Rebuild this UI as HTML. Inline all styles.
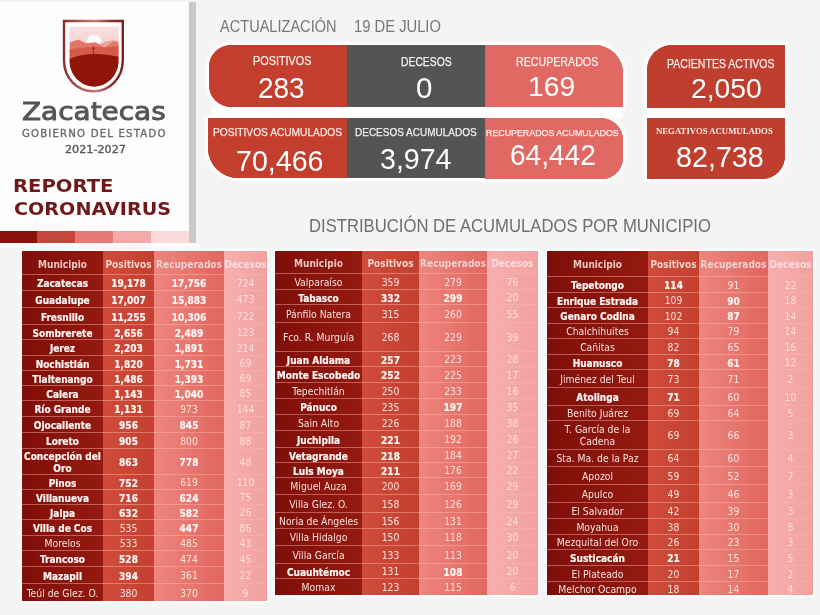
<!DOCTYPE html>
<html><head><meta charset="utf-8"><style>
*{margin:0;padding:0;box-sizing:border-box}
html,body{width:820px;height:615px;overflow:hidden;background:#f4f4f4;position:relative;font-family:"Liberation Sans",sans-serif}
.abs{position:absolute}
#lp{position:absolute;left:0;top:2px;width:189px;height:229px;background:#fefefe}
#gbar{position:absolute;left:189px;top:2px;width:7px;height:241px;background:#c9c9c9}
.bars{position:absolute;top:231px;height:12px}
.t{position:absolute;white-space:nowrap;transform-origin:0 0;line-height:1}
.card{position:absolute;color:#fff}
.cs{box-shadow:0 0 3px 2.5px #fff}
.card .l,.card .n{position:absolute;white-space:nowrap;transform-origin:0 0;line-height:1}
.tbl{position:absolute;box-shadow:0 0 2px 2px #fff}
.tbl .col{position:absolute;top:0;height:100%}
.cm{background:linear-gradient(90deg,#7f0e08,#951a10)}
.cp{background:linear-gradient(90deg,#cf4c3c,#c3402f)}
.cr{background:linear-gradient(90deg,#ed857e,#e1675f)}
.cd{background:linear-gradient(90deg,#f6b0ae,#f2a09f)}
.tbl .ln{position:absolute;left:0;width:100%;height:1px;background:rgba(255,185,175,0.45)}
.tbl .c{position:absolute;display:flex;align-items:center;justify-content:center;text-align:center;padding-top:3px;font-family:"DejaVu Sans Condensed","DejaVu Sans",sans-serif;font-size:10.3px;line-height:12px;color:#fff8f6}
.tbl .c.b{font-weight:bold;font-size:10px}
.tbl .c.h{font-weight:bold;font-size:10px;color:#ecc6c2}
.tbl .c.h1{color:#f6d4cc}
.tbl .c.h2{color:#ecd0ce}
.tbl .c.h3{color:#f9dcdc}
.tbl .c.dc{color:#fcdedc}
.tbl .c{padding-top:1px;color:#f9e0dc}
.tbl .c.b{padding-top:4px;color:#fff6f4}
.tbl .c.h{padding-top:4px}
.tbl .c.b span{-webkit-text-stroke:0.2px #fff6f4}

</style></head><body>
<div id="lp"></div>
<div id="gbar"></div>
<div class="abs" style="left:0;top:243px;width:200px;height:5px;background:linear-gradient(#fdfbfb,#fbf9f9 70%,#f6f5f5)"></div>
<div class="bars" style="left:0;width:37px;background:#8a130c"></div>
<div class="bars" style="left:37px;width:38px;background:#c5473b"></div>
<div class="bars" style="left:75px;width:38px;background:#e77a73"></div>
<div class="bars" style="left:113px;width:38px;background:#f3aaa8"></div>
<div class="bars" style="left:151px;width:38px;background:#fbdada"></div>

<!-- shield -->
<svg class="abs" style="left:60px;top:17px" width="68" height="78" viewBox="0 0 68 78">
  <defs>
    <linearGradient id="sg" x1="0" y1="0" x2="1" y2="0">
      <stop offset="0" stop-color="#8a2c2c"/><stop offset="0.3" stop-color="#b25a58"/>
      <stop offset="0.55" stop-color="#c27a78"/><stop offset="0.8" stop-color="#8e2e2c"/><stop offset="1" stop-color="#7a2020"/>
    </linearGradient>
    <linearGradient id="sky" x1="0" y1="0" x2="0" y2="1">
      <stop offset="0" stop-color="#fbe9e9"/><stop offset="1" stop-color="#f4cccc"/>
    </linearGradient>
    <clipPath id="sh"><path d="M9.5 9.5 H58.6 V43 C58.6 58 47 69.5 34 69.5 C21 69.5 9.5 58 9.5 43 Z"/></clipPath>
  </defs>
  <path d="M4 4 H62.8 V43 C62.8 61 50 74.3 33.4 74.3 C16.8 74.3 4 61 4 43 Z" fill="none" stroke="url(#sg)" stroke-width="2.4"/>
  <g clip-path="url(#sh)">
    <rect x="0" y="0" width="68" height="34" fill="url(#sky)"/>
    <ellipse cx="34" cy="24" rx="7" ry="6.5" fill="#fffafa"/>
    <path d="M38 28 L46 24.5 L53.7 23.2 L58.6 24.5 V40 H38 Z" fill="#eea19a"/>
    <path d="M9.5 25.8 L18.1 22.4 L25.8 26.2 L35.9 25.3 L44.8 30.7 L53.7 24.2 L58.6 25.5 V78 H9.5 Z" fill="#e27767"/>
    <path d="M9.5 32.5 L20 31 L33.4 29.4 L45 30.5 L58.6 29 V78 H9.5 Z" fill="#d65a48"/>
    <path d="M9.5 41.8 C17 38.5 26 37 33.4 37 C43 37 52 38.5 58.6 39.8 V78 H9.5 Z" fill="#8f150b"/>
    <path d="M33.4 29.2 V37.2 M31.6 31.3 H35.4" stroke="#a2291c" stroke-width="1"/>
  </g>
</svg>



<!-- shadows -->
<div class="card cs" style="left:209px;top:45px;width:138px;height:62px;background:#c33e2d;border-radius:22px 0 0 22px"></div>
<div class="card cs" style="left:347px;top:45px;width:138px;height:62px;background:#545454"></div>
<div class="card cs" style="left:485px;top:45px;width:138px;height:62px;background:#e06a63;border-radius:0 28px 0 0"></div>
<div class="card cs" style="left:647px;top:45px;width:138px;height:63px;background:#c03e2e;border-radius:25px 0 0 0"></div>
<div class="card cs" style="left:208px;top:118px;width:139px;height:60px;background:#c33e2d;border-radius:0 0 0 30px"></div>
<div class="card cs" style="left:347px;top:118px;width:138px;height:60px;background:#545454"></div>
<div class="card cs" style="left:485px;top:118px;width:138px;height:61px;background:#e06a63;border-radius:0 22px 21px 0"></div>
<div class="card cs" style="left:647px;top:118px;width:138px;height:61px;background:#c03e2e;border-radius:0 0 23px 0"></div>
<!-- cards top row -->
<div class="card" style="left:209px;top:45px;width:138px;height:62px;background:#c33e2d;border-radius:22px 0 0 22px"></div>
<div class="card" style="left:347px;top:45px;width:138px;height:62px;background:#545454"></div>
<div class="card" style="left:485px;top:45px;width:138px;height:62px;background:#e06a63;border-radius:0 28px 0 0"></div>
<div class="card" style="left:647px;top:45px;width:138px;height:63px;background:#c03e2e;border-radius:25px 0 0 0"></div>
<div class="abs" style="left:212px;top:107px;width:410px;height:11px;background:#fdfdfd"></div>
<div class="abs" style="left:647px;top:108px;width:138px;height:10px;background:#fdfdfd"></div>
<!-- cards bottom row -->
<div class="card" style="left:208px;top:118px;width:139px;height:60px;background:#c33e2d;border-radius:0 0 0 30px"></div>
<div class="card" style="left:347px;top:118px;width:138px;height:60px;background:#545454"></div>
<div class="card" style="left:485px;top:118px;width:138px;height:61px;background:#e06a63;border-radius:0 22px 21px 0"></div>
<div class="card" style="left:647px;top:118px;width:138px;height:61px;background:#c03e2e;border-radius:0 0 23px 0"></div>


<div class="tbl" style="left:22px;top:251px;width:245px;height:350px">
<div class="col cm" style="left:0px;width:81px"></div>
<div class="col cp" style="left:81px;width:51px"></div>
<div class="col cr" style="left:132px;width:70px"></div>
<div class="col cd" style="left:202px;width:43px"></div>
<div class="c h h0" style="left:0px;top:0px;width:81px;height:23px;"><span>Municipio</span></div>
<div class="c h h1" style="left:81px;top:0px;width:51px;height:23px;"><span>Positivos</span></div>
<div class="c h h2" style="left:132px;top:0px;width:70px;height:23px;"><span>Recuperados</span></div>
<div class="c h h3" style="left:202px;top:0px;width:43px;height:23px;"><span>Decesos</span></div>
<div class="ln" style="top:23px"></div>
<div class="c b" style="left:0px;top:23px;width:81px;height:16px;"><span>Zacatecas</span></div>
<div class="c b" style="left:81px;top:23px;width:51px;height:16px;"><span>19,178</span></div>
<div class="c b" style="left:132px;top:23px;width:70px;height:16px;"><span>17,756</span></div>
<div class="c dc" style="left:202px;top:23px;width:43px;height:16px;"><span>724</span></div>
<div class="ln" style="top:39px"></div>
<div class="c b" style="left:0px;top:39px;width:81px;height:17px;"><span>Guadalupe</span></div>
<div class="c b" style="left:81px;top:39px;width:51px;height:17px;"><span>17,007</span></div>
<div class="c b" style="left:132px;top:39px;width:70px;height:17px;"><span>15,883</span></div>
<div class="c dc" style="left:202px;top:39px;width:43px;height:17px;"><span>473</span></div>
<div class="ln" style="top:56px"></div>
<div class="c b" style="left:0px;top:56px;width:81px;height:17px;"><span>Fresnillo</span></div>
<div class="c b" style="left:81px;top:56px;width:51px;height:17px;"><span>11,255</span></div>
<div class="c b" style="left:132px;top:56px;width:70px;height:17px;"><span>10,306</span></div>
<div class="c dc" style="left:202px;top:56px;width:43px;height:17px;"><span>722</span></div>
<div class="ln" style="top:73px"></div>
<div class="c b" style="left:0px;top:73px;width:81px;height:15px;"><span>Sombrerete</span></div>
<div class="c b" style="left:81px;top:73px;width:51px;height:15px;"><span>2,656</span></div>
<div class="c b" style="left:132px;top:73px;width:70px;height:15px;"><span>2,489</span></div>
<div class="c dc" style="left:202px;top:73px;width:43px;height:15px;"><span>123</span></div>
<div class="ln" style="top:88px"></div>
<div class="c b" style="left:0px;top:88px;width:81px;height:16px;"><span>Jerez</span></div>
<div class="c b" style="left:81px;top:88px;width:51px;height:16px;"><span>2,203</span></div>
<div class="c b" style="left:132px;top:88px;width:70px;height:16px;"><span>1,891</span></div>
<div class="c dc" style="left:202px;top:88px;width:43px;height:16px;"><span>214</span></div>
<div class="ln" style="top:104px"></div>
<div class="c b" style="left:0px;top:104px;width:81px;height:15px;"><span>Nochistlán</span></div>
<div class="c b" style="left:81px;top:104px;width:51px;height:15px;"><span>1,820</span></div>
<div class="c b" style="left:132px;top:104px;width:70px;height:15px;"><span>1,731</span></div>
<div class="c dc" style="left:202px;top:104px;width:43px;height:15px;"><span>69</span></div>
<div class="ln" style="top:119px"></div>
<div class="c b" style="left:0px;top:119px;width:81px;height:15px;"><span>Tlaltenango</span></div>
<div class="c b" style="left:81px;top:119px;width:51px;height:15px;"><span>1,486</span></div>
<div class="c b" style="left:132px;top:119px;width:70px;height:15px;"><span>1,393</span></div>
<div class="c dc" style="left:202px;top:119px;width:43px;height:15px;"><span>69</span></div>
<div class="ln" style="top:134px"></div>
<div class="c b" style="left:0px;top:134px;width:81px;height:15px;"><span>Calera</span></div>
<div class="c b" style="left:81px;top:134px;width:51px;height:15px;"><span>1,143</span></div>
<div class="c b" style="left:132px;top:134px;width:70px;height:15px;"><span>1,040</span></div>
<div class="c dc" style="left:202px;top:134px;width:43px;height:15px;"><span>85</span></div>
<div class="ln" style="top:149px"></div>
<div class="c b" style="left:0px;top:149px;width:81px;height:16px;"><span>Río Grande</span></div>
<div class="c b" style="left:81px;top:149px;width:51px;height:16px;"><span>1,131</span></div>
<div class="c" style="left:132px;top:149px;width:70px;height:16px;"><span>973</span></div>
<div class="c dc" style="left:202px;top:149px;width:43px;height:16px;"><span>144</span></div>
<div class="ln" style="top:165px"></div>
<div class="c b" style="left:0px;top:165px;width:81px;height:16px;"><span>Ojocaliente</span></div>
<div class="c b" style="left:81px;top:165px;width:51px;height:16px;"><span>956</span></div>
<div class="c b" style="left:132px;top:165px;width:70px;height:16px;"><span>845</span></div>
<div class="c dc" style="left:202px;top:165px;width:43px;height:16px;"><span>87</span></div>
<div class="ln" style="top:181px"></div>
<div class="c b" style="left:0px;top:181px;width:81px;height:16px;"><span>Loreto</span></div>
<div class="c b" style="left:81px;top:181px;width:51px;height:16px;"><span>905</span></div>
<div class="c" style="left:132px;top:181px;width:70px;height:16px;"><span>800</span></div>
<div class="c dc" style="left:202px;top:181px;width:43px;height:16px;"><span>88</span></div>
<div class="ln" style="top:197px"></div>
<div class="c b" style="left:0px;top:197px;width:81px;height:26px;"><span>Concepción del<br>Oro</span></div>
<div class="c b" style="left:81px;top:197px;width:51px;height:26px;"><span>863</span></div>
<div class="c b" style="left:132px;top:197px;width:70px;height:26px;"><span>778</span></div>
<div class="c dc" style="left:202px;top:197px;width:43px;height:26px;"><span>48</span></div>
<div class="ln" style="top:223px"></div>
<div class="c b" style="left:0px;top:223px;width:81px;height:15px;"><span>Pinos</span></div>
<div class="c b" style="left:81px;top:223px;width:51px;height:15px;"><span>752</span></div>
<div class="c" style="left:132px;top:223px;width:70px;height:15px;"><span>619</span></div>
<div class="c dc" style="left:202px;top:223px;width:43px;height:15px;"><span>110</span></div>
<div class="ln" style="top:238px"></div>
<div class="c b" style="left:0px;top:238px;width:81px;height:15px;"><span>Villanueva</span></div>
<div class="c b" style="left:81px;top:238px;width:51px;height:15px;"><span>716</span></div>
<div class="c b" style="left:132px;top:238px;width:70px;height:15px;"><span>624</span></div>
<div class="c dc" style="left:202px;top:238px;width:43px;height:15px;"><span>75</span></div>
<div class="ln" style="top:253px"></div>
<div class="c b" style="left:0px;top:253px;width:81px;height:15px;"><span>Jalpa</span></div>
<div class="c b" style="left:81px;top:253px;width:51px;height:15px;"><span>632</span></div>
<div class="c b" style="left:132px;top:253px;width:70px;height:15px;"><span>582</span></div>
<div class="c dc" style="left:202px;top:253px;width:43px;height:15px;"><span>26</span></div>
<div class="ln" style="top:268px"></div>
<div class="c b" style="left:0px;top:268px;width:81px;height:16px;"><span>Villa de Cos</span></div>
<div class="c" style="left:81px;top:268px;width:51px;height:16px;"><span>535</span></div>
<div class="c b" style="left:132px;top:268px;width:70px;height:16px;"><span>447</span></div>
<div class="c dc" style="left:202px;top:268px;width:43px;height:16px;"><span>86</span></div>
<div class="ln" style="top:284px"></div>
<div class="c" style="left:0px;top:284px;width:81px;height:15px;"><span>Morelos</span></div>
<div class="c" style="left:81px;top:284px;width:51px;height:15px;"><span>533</span></div>
<div class="c" style="left:132px;top:284px;width:70px;height:15px;"><span>485</span></div>
<div class="c dc" style="left:202px;top:284px;width:43px;height:15px;"><span>43</span></div>
<div class="ln" style="top:299px"></div>
<div class="c b" style="left:0px;top:299px;width:81px;height:16px;"><span>Trancoso</span></div>
<div class="c b" style="left:81px;top:299px;width:51px;height:16px;"><span>528</span></div>
<div class="c" style="left:132px;top:299px;width:70px;height:16px;"><span>474</span></div>
<div class="c dc" style="left:202px;top:299px;width:43px;height:16px;"><span>45</span></div>
<div class="ln" style="top:315px"></div>
<div class="c b" style="left:0px;top:315px;width:81px;height:17px;"><span>Mazapil</span></div>
<div class="c b" style="left:81px;top:315px;width:51px;height:17px;"><span>394</span></div>
<div class="c" style="left:132px;top:315px;width:70px;height:17px;"><span>361</span></div>
<div class="c dc" style="left:202px;top:315px;width:43px;height:17px;"><span>22</span></div>
<div class="ln" style="top:332px"></div>
<div class="c" style="left:0px;top:332px;width:81px;height:18px;"><span>Teúl de Glez. O.</span></div>
<div class="c" style="left:81px;top:332px;width:51px;height:18px;"><span>380</span></div>
<div class="c" style="left:132px;top:332px;width:70px;height:18px;"><span>370</span></div>
<div class="c dc" style="left:202px;top:332px;width:43px;height:18px;"><span>9</span></div>
</div>
<div class="tbl" style="left:275px;top:251px;width:263px;height:344px">
<div class="col cm" style="left:0px;width:87px"></div>
<div class="col cp" style="left:87px;width:57px"></div>
<div class="col cr" style="left:144px;width:68px"></div>
<div class="col cd" style="left:212px;width:51px"></div>
<div class="c h h0" style="left:0px;top:0px;width:87px;height:22px;"><span>Municipio</span></div>
<div class="c h h1" style="left:87px;top:0px;width:57px;height:22px;"><span>Positivos</span></div>
<div class="c h h2" style="left:144px;top:0px;width:68px;height:22px;"><span>Recuperados</span></div>
<div class="c h h3" style="left:212px;top:0px;width:51px;height:22px;"><span>Decesos</span></div>
<div class="ln" style="top:22px"></div>
<div class="c" style="left:0px;top:22px;width:87px;height:16px;"><span>Valparaíso</span></div>
<div class="c" style="left:87px;top:22px;width:57px;height:16px;"><span>359</span></div>
<div class="c" style="left:144px;top:22px;width:68px;height:16px;"><span>279</span></div>
<div class="c dc" style="left:212px;top:22px;width:51px;height:16px;"><span>76</span></div>
<div class="ln" style="top:38px"></div>
<div class="c b" style="left:0px;top:38px;width:87px;height:15px;"><span>Tabasco</span></div>
<div class="c b" style="left:87px;top:38px;width:57px;height:15px;"><span>332</span></div>
<div class="c b" style="left:144px;top:38px;width:68px;height:15px;"><span>299</span></div>
<div class="c dc" style="left:212px;top:38px;width:51px;height:15px;"><span>20</span></div>
<div class="ln" style="top:53px"></div>
<div class="c" style="left:0px;top:53px;width:87px;height:18px;"><span>Pánfilo Natera</span></div>
<div class="c" style="left:87px;top:53px;width:57px;height:18px;"><span>315</span></div>
<div class="c" style="left:144px;top:53px;width:68px;height:18px;"><span>260</span></div>
<div class="c dc" style="left:212px;top:53px;width:51px;height:18px;"><span>55</span></div>
<div class="ln" style="top:71px"></div>
<div class="c" style="left:0px;top:71px;width:87px;height:29px;"><span>Fco. R. Murguía</span></div>
<div class="c" style="left:87px;top:71px;width:57px;height:29px;"><span>268</span></div>
<div class="c" style="left:144px;top:71px;width:68px;height:29px;"><span>229</span></div>
<div class="c dc" style="left:212px;top:71px;width:51px;height:29px;"><span>39</span></div>
<div class="ln" style="top:100px"></div>
<div class="c b" style="left:0px;top:100px;width:87px;height:15px;"><span>Juan Aldama</span></div>
<div class="c b" style="left:87px;top:100px;width:57px;height:15px;"><span>257</span></div>
<div class="c" style="left:144px;top:100px;width:68px;height:15px;"><span>223</span></div>
<div class="c dc" style="left:212px;top:100px;width:51px;height:15px;"><span>28</span></div>
<div class="ln" style="top:115px"></div>
<div class="c b" style="left:0px;top:115px;width:87px;height:16px;"><span>Monte Escobedo</span></div>
<div class="c b" style="left:87px;top:115px;width:57px;height:16px;"><span>252</span></div>
<div class="c" style="left:144px;top:115px;width:68px;height:16px;"><span>225</span></div>
<div class="c dc" style="left:212px;top:115px;width:51px;height:16px;"><span>17</span></div>
<div class="ln" style="top:131px"></div>
<div class="c" style="left:0px;top:131px;width:87px;height:16px;"><span>Tepechitlán</span></div>
<div class="c" style="left:87px;top:131px;width:57px;height:16px;"><span>250</span></div>
<div class="c" style="left:144px;top:131px;width:68px;height:16px;"><span>233</span></div>
<div class="c dc" style="left:212px;top:131px;width:51px;height:16px;"><span>16</span></div>
<div class="ln" style="top:147px"></div>
<div class="c b" style="left:0px;top:147px;width:87px;height:16px;"><span>Pánuco</span></div>
<div class="c" style="left:87px;top:147px;width:57px;height:16px;"><span>235</span></div>
<div class="c b" style="left:144px;top:147px;width:68px;height:16px;"><span>197</span></div>
<div class="c dc" style="left:212px;top:147px;width:51px;height:16px;"><span>35</span></div>
<div class="ln" style="top:163px"></div>
<div class="c" style="left:0px;top:163px;width:87px;height:16px;"><span>Sain Alto</span></div>
<div class="c" style="left:87px;top:163px;width:57px;height:16px;"><span>226</span></div>
<div class="c" style="left:144px;top:163px;width:68px;height:16px;"><span>188</span></div>
<div class="c dc" style="left:212px;top:163px;width:51px;height:16px;"><span>38</span></div>
<div class="ln" style="top:179px"></div>
<div class="c b" style="left:0px;top:179px;width:87px;height:17px;"><span>Juchipila</span></div>
<div class="c b" style="left:87px;top:179px;width:57px;height:17px;"><span>221</span></div>
<div class="c" style="left:144px;top:179px;width:68px;height:17px;"><span>192</span></div>
<div class="c dc" style="left:212px;top:179px;width:51px;height:17px;"><span>26</span></div>
<div class="ln" style="top:196px"></div>
<div class="c b" style="left:0px;top:196px;width:87px;height:15px;"><span>Vetagrande</span></div>
<div class="c b" style="left:87px;top:196px;width:57px;height:15px;"><span>218</span></div>
<div class="c" style="left:144px;top:196px;width:68px;height:15px;"><span>184</span></div>
<div class="c dc" style="left:212px;top:196px;width:51px;height:15px;"><span>27</span></div>
<div class="ln" style="top:211px"></div>
<div class="c b" style="left:0px;top:211px;width:87px;height:15px;"><span>Luis Moya</span></div>
<div class="c b" style="left:87px;top:211px;width:57px;height:15px;"><span>211</span></div>
<div class="c" style="left:144px;top:211px;width:68px;height:15px;"><span>176</span></div>
<div class="c dc" style="left:212px;top:211px;width:51px;height:15px;"><span>22</span></div>
<div class="ln" style="top:226px"></div>
<div class="c" style="left:0px;top:226px;width:87px;height:17px;"><span>Miguel Auza</span></div>
<div class="c" style="left:87px;top:226px;width:57px;height:17px;"><span>200</span></div>
<div class="c" style="left:144px;top:226px;width:68px;height:17px;"><span>169</span></div>
<div class="c dc" style="left:212px;top:226px;width:51px;height:17px;"><span>29</span></div>
<div class="ln" style="top:243px"></div>
<div class="c" style="left:0px;top:243px;width:87px;height:18px;"><span>Villa Glez. O.</span></div>
<div class="c" style="left:87px;top:243px;width:57px;height:18px;"><span>158</span></div>
<div class="c" style="left:144px;top:243px;width:68px;height:18px;"><span>126</span></div>
<div class="c dc" style="left:212px;top:243px;width:51px;height:18px;"><span>29</span></div>
<div class="ln" style="top:261px"></div>
<div class="c" style="left:0px;top:261px;width:87px;height:16px;"><span>Noria de Ángeles</span></div>
<div class="c" style="left:87px;top:261px;width:57px;height:16px;"><span>156</span></div>
<div class="c" style="left:144px;top:261px;width:68px;height:16px;"><span>131</span></div>
<div class="c dc" style="left:212px;top:261px;width:51px;height:16px;"><span>24</span></div>
<div class="ln" style="top:277px"></div>
<div class="c" style="left:0px;top:277px;width:87px;height:17px;"><span>Villa Hidalgo</span></div>
<div class="c" style="left:87px;top:277px;width:57px;height:17px;"><span>150</span></div>
<div class="c" style="left:144px;top:277px;width:68px;height:17px;"><span>118</span></div>
<div class="c dc" style="left:212px;top:277px;width:51px;height:17px;"><span>30</span></div>
<div class="ln" style="top:294px"></div>
<div class="c" style="left:0px;top:294px;width:87px;height:18px;"><span>Villa García</span></div>
<div class="c" style="left:87px;top:294px;width:57px;height:18px;"><span>133</span></div>
<div class="c" style="left:144px;top:294px;width:68px;height:18px;"><span>113</span></div>
<div class="c dc" style="left:212px;top:294px;width:51px;height:18px;"><span>20</span></div>
<div class="ln" style="top:312px"></div>
<div class="c b" style="left:0px;top:312px;width:87px;height:15px;"><span>Cuauhtémoc</span></div>
<div class="c" style="left:87px;top:312px;width:57px;height:15px;"><span>131</span></div>
<div class="c b" style="left:144px;top:312px;width:68px;height:15px;"><span>108</span></div>
<div class="c dc" style="left:212px;top:312px;width:51px;height:15px;"><span>20</span></div>
<div class="ln" style="top:327px"></div>
<div class="c" style="left:0px;top:327px;width:87px;height:17px;"><span>Momax</span></div>
<div class="c" style="left:87px;top:327px;width:57px;height:17px;"><span>123</span></div>
<div class="c" style="left:144px;top:327px;width:68px;height:17px;"><span>115</span></div>
<div class="c dc" style="left:212px;top:327px;width:51px;height:17px;"><span>6</span></div>
</div>
<div class="tbl" style="left:547px;top:251px;width:266px;height:344px">
<div class="col cm" style="left:0px;width:101px"></div>
<div class="col cp" style="left:101px;width:51px"></div>
<div class="col cr" style="left:152px;width:69px"></div>
<div class="col cd" style="left:221px;width:45px"></div>
<div class="c h h0" style="left:0px;top:0px;width:101px;height:25px;padding-top:2px;"><span>Municipio</span></div>
<div class="c h h1" style="left:101px;top:0px;width:51px;height:25px;padding-top:2px;"><span>Positivos</span></div>
<div class="c h h2" style="left:152px;top:0px;width:69px;height:25px;padding-top:2px;"><span>Recuperados</span></div>
<div class="c h h3" style="left:221px;top:0px;width:45px;height:25px;padding-top:2px;"><span>Decesos</span></div>
<div class="ln" style="top:25px"></div>
<div class="c b" style="left:0px;top:25px;width:101px;height:16px;"><span>Tepetongo</span></div>
<div class="c b" style="left:101px;top:25px;width:51px;height:16px;"><span>114</span></div>
<div class="c" style="left:152px;top:25px;width:69px;height:16px;"><span>91</span></div>
<div class="c dc" style="left:221px;top:25px;width:45px;height:16px;"><span>22</span></div>
<div class="ln" style="top:41px"></div>
<div class="c b" style="left:0px;top:41px;width:101px;height:15px;"><span>Enrique Estrada</span></div>
<div class="c" style="left:101px;top:41px;width:51px;height:15px;"><span>109</span></div>
<div class="c b" style="left:152px;top:41px;width:69px;height:15px;"><span>90</span></div>
<div class="c dc" style="left:221px;top:41px;width:45px;height:15px;"><span>18</span></div>
<div class="ln" style="top:56px"></div>
<div class="c b" style="left:0px;top:56px;width:101px;height:16px;"><span>Genaro Codina</span></div>
<div class="c" style="left:101px;top:56px;width:51px;height:16px;"><span>102</span></div>
<div class="c b" style="left:152px;top:56px;width:69px;height:16px;"><span>87</span></div>
<div class="c dc" style="left:221px;top:56px;width:45px;height:16px;"><span>14</span></div>
<div class="ln" style="top:72px"></div>
<div class="c" style="left:0px;top:72px;width:101px;height:15px;"><span>Chalchihuites</span></div>
<div class="c" style="left:101px;top:72px;width:51px;height:15px;"><span>94</span></div>
<div class="c" style="left:152px;top:72px;width:69px;height:15px;"><span>79</span></div>
<div class="c dc" style="left:221px;top:72px;width:45px;height:15px;"><span>14</span></div>
<div class="ln" style="top:87px"></div>
<div class="c" style="left:0px;top:87px;width:101px;height:16px;"><span>Cañitas</span></div>
<div class="c" style="left:101px;top:87px;width:51px;height:16px;"><span>82</span></div>
<div class="c" style="left:152px;top:87px;width:69px;height:16px;"><span>65</span></div>
<div class="c dc" style="left:221px;top:87px;width:45px;height:16px;"><span>16</span></div>
<div class="ln" style="top:103px"></div>
<div class="c b" style="left:0px;top:103px;width:101px;height:15px;"><span>Huanusco</span></div>
<div class="c b" style="left:101px;top:103px;width:51px;height:15px;"><span>78</span></div>
<div class="c b" style="left:152px;top:103px;width:69px;height:15px;"><span>61</span></div>
<div class="c dc" style="left:221px;top:103px;width:45px;height:15px;"><span>12</span></div>
<div class="ln" style="top:118px"></div>
<div class="c" style="left:0px;top:118px;width:101px;height:18px;"><span>Jiménez del Teul</span></div>
<div class="c" style="left:101px;top:118px;width:51px;height:18px;"><span>73</span></div>
<div class="c" style="left:152px;top:118px;width:69px;height:18px;"><span>71</span></div>
<div class="c dc" style="left:221px;top:118px;width:45px;height:18px;"><span>2</span></div>
<div class="ln" style="top:136px"></div>
<div class="c b" style="left:0px;top:136px;width:101px;height:18px;"><span>Atolinga</span></div>
<div class="c b" style="left:101px;top:136px;width:51px;height:18px;"><span>71</span></div>
<div class="c" style="left:152px;top:136px;width:69px;height:18px;"><span>60</span></div>
<div class="c dc" style="left:221px;top:136px;width:45px;height:18px;"><span>10</span></div>
<div class="ln" style="top:154px"></div>
<div class="c" style="left:0px;top:154px;width:101px;height:15px;"><span>Benito Juárez</span></div>
<div class="c" style="left:101px;top:154px;width:51px;height:15px;"><span>69</span></div>
<div class="c" style="left:152px;top:154px;width:69px;height:15px;"><span>64</span></div>
<div class="c dc" style="left:221px;top:154px;width:45px;height:15px;"><span>5</span></div>
<div class="ln" style="top:169px"></div>
<div class="c" style="left:0px;top:169px;width:101px;height:29px;"><span>T. García de la<br>Cadena</span></div>
<div class="c" style="left:101px;top:169px;width:51px;height:29px;"><span>69</span></div>
<div class="c" style="left:152px;top:169px;width:69px;height:29px;"><span>66</span></div>
<div class="c dc" style="left:221px;top:169px;width:45px;height:29px;"><span>3</span></div>
<div class="ln" style="top:198px"></div>
<div class="c" style="left:0px;top:198px;width:101px;height:17px;"><span>Sta. Ma. de la Paz</span></div>
<div class="c" style="left:101px;top:198px;width:51px;height:17px;"><span>64</span></div>
<div class="c" style="left:152px;top:198px;width:69px;height:17px;"><span>60</span></div>
<div class="c dc" style="left:221px;top:198px;width:45px;height:17px;"><span>4</span></div>
<div class="ln" style="top:215px"></div>
<div class="c" style="left:0px;top:215px;width:101px;height:18px;"><span>Apozol</span></div>
<div class="c" style="left:101px;top:215px;width:51px;height:18px;"><span>59</span></div>
<div class="c" style="left:152px;top:215px;width:69px;height:18px;"><span>52</span></div>
<div class="c dc" style="left:221px;top:215px;width:45px;height:18px;"><span>7</span></div>
<div class="ln" style="top:233px"></div>
<div class="c" style="left:0px;top:233px;width:101px;height:18px;"><span>Apulco</span></div>
<div class="c" style="left:101px;top:233px;width:51px;height:18px;"><span>49</span></div>
<div class="c" style="left:152px;top:233px;width:69px;height:18px;"><span>46</span></div>
<div class="c dc" style="left:221px;top:233px;width:45px;height:18px;"><span>3</span></div>
<div class="ln" style="top:251px"></div>
<div class="c" style="left:0px;top:251px;width:101px;height:16px;"><span>El Salvador</span></div>
<div class="c" style="left:101px;top:251px;width:51px;height:16px;"><span>42</span></div>
<div class="c" style="left:152px;top:251px;width:69px;height:16px;"><span>39</span></div>
<div class="c dc" style="left:221px;top:251px;width:45px;height:16px;"><span>3</span></div>
<div class="ln" style="top:267px"></div>
<div class="c" style="left:0px;top:267px;width:101px;height:16px;"><span>Moyahua</span></div>
<div class="c" style="left:101px;top:267px;width:51px;height:16px;"><span>38</span></div>
<div class="c" style="left:152px;top:267px;width:69px;height:16px;"><span>30</span></div>
<div class="c dc" style="left:221px;top:267px;width:45px;height:16px;"><span>8</span></div>
<div class="ln" style="top:283px"></div>
<div class="c" style="left:0px;top:283px;width:101px;height:15px;"><span>Mezquital del Oro</span></div>
<div class="c" style="left:101px;top:283px;width:51px;height:15px;"><span>26</span></div>
<div class="c" style="left:152px;top:283px;width:69px;height:15px;"><span>23</span></div>
<div class="c dc" style="left:221px;top:283px;width:45px;height:15px;"><span>3</span></div>
<div class="ln" style="top:298px"></div>
<div class="c b" style="left:0px;top:298px;width:101px;height:16px;"><span>Susticacán</span></div>
<div class="c b" style="left:101px;top:298px;width:51px;height:16px;"><span>21</span></div>
<div class="c" style="left:152px;top:298px;width:69px;height:16px;"><span>15</span></div>
<div class="c dc" style="left:221px;top:298px;width:45px;height:16px;"><span>5</span></div>
<div class="ln" style="top:314px"></div>
<div class="c" style="left:0px;top:314px;width:101px;height:16px;"><span>El Plateado</span></div>
<div class="c" style="left:101px;top:314px;width:51px;height:16px;"><span>20</span></div>
<div class="c" style="left:152px;top:314px;width:69px;height:16px;"><span>17</span></div>
<div class="c dc" style="left:221px;top:314px;width:45px;height:16px;"><span>2</span></div>
<div class="ln" style="top:330px"></div>
<div class="c" style="left:0px;top:330px;width:101px;height:14px;"><span>Melchor Ocampo</span></div>
<div class="c" style="left:101px;top:330px;width:51px;height:14px;"><span>18</span></div>
<div class="c" style="left:152px;top:330px;width:69px;height:14px;"><span>14</span></div>
<div class="c dc" style="left:221px;top:330px;width:45px;height:14px;"><span>4</span></div>
</div>
<div class="t" id="zac" style="left:21.50px;top:99.30px;font-family:'DejaVu Sans',sans-serif;font-weight:normal;font-size:25.02px;transform:scaleX(1.115);letter-spacing:0.00px;color:#555555;-webkit-text-stroke:0.9px #555">Zacatecas</div>
<div class="t" id="gob" style="left:22.10px;top:128.06px;font-family:'DejaVu Sans',sans-serif;font-weight:normal;font-size:10.43px;transform:scaleX(0.975);letter-spacing:1.20px;color:#6a6a6a;-webkit-text-stroke:0.35px #6a6a6a">GOBIERNO DEL ESTADO</div>
<div class="t" id="yr" style="left:64.90px;top:143.83px;font-family:'DejaVu Sans',sans-serif;font-weight:normal;font-size:10.56px;transform:scaleX(1.060);letter-spacing:0.00px;color:#5a5a5a;-webkit-text-stroke:0.4px #5a5a5a">2021-2027</div>
<div class="t" id="rep" style="left:13.00px;top:176.57px;font-family:'DejaVu Sans',sans-serif;font-weight:bold;font-size:18.11px;transform:scaleX(1.082);letter-spacing:0.00px;color:#6e1a1a;">REPORTE</div>
<div class="t" id="cor" style="left:14.40px;top:199.97px;font-family:'DejaVu Sans',sans-serif;font-weight:bold;font-size:18.11px;transform:scaleX(1.058);letter-spacing:0.00px;color:#6e1a1a;">CORONAVIRUS</div>
<div class="t" id="act" style="left:219.60px;top:17.73px;font-family:'Liberation Sans',sans-serif;font-weight:normal;font-size:16.34px;transform:scaleX(0.892);letter-spacing:0.00px;color:#777777;">ACTUALIZACIÓN</div>
<div class="t" id="fecha" style="left:354.30px;top:18.13px;font-family:'Liberation Sans',sans-serif;font-weight:normal;font-size:16.34px;transform:scaleX(0.904);letter-spacing:0.00px;color:#777777;">19 DE JULIO</div>
<div class="t" id="title" style="left:309.00px;top:215.61px;font-family:'Liberation Sans',sans-serif;font-weight:normal;font-size:19.27px;transform:scaleX(0.865);letter-spacing:0.00px;color:#6e6e6e;">DISTRIBUCIÓN DE ACUMULADOS POR MUNICIPIO</div>
<div class="t" id="l1" style="left:253.00px;top:55.17px;font-family:'Liberation Sans',sans-serif;font-weight:normal;font-size:12.29px;transform:scaleX(0.882);letter-spacing:0.00px;color:#fbeae6;-webkit-text-stroke:0.25px #fbeae6">POSITIVOS</div>
<div class="t" id="n1" style="left:257.80px;top:72.75px;font-family:'Liberation Sans',sans-serif;font-weight:normal;font-size:29.33px;transform:scaleX(0.953);letter-spacing:0.00px;color:#ffffff;">283</div>
<div class="t" id="l2" style="left:401.00px;top:55.94px;font-family:'Liberation Sans',sans-serif;font-weight:normal;font-size:12.57px;transform:scaleX(0.824);letter-spacing:0.00px;color:#f2f2f2;-webkit-text-stroke:0.25px #f2f2f2">DECESOS</div>
<div class="t" id="n2" style="left:416.30px;top:73.99px;font-family:'Liberation Sans',sans-serif;font-weight:normal;font-size:29.05px;transform:scaleX(1.016);letter-spacing:0.00px;color:#ffffff;">0</div>
<div class="t" id="l3" style="left:516.00px;top:56.37px;font-family:'Liberation Sans',sans-serif;font-weight:normal;font-size:12.29px;transform:scaleX(0.867);letter-spacing:0.00px;color:#fdeeee;-webkit-text-stroke:0.25px #fdeeee">RECUPERADOS</div>
<div class="t" id="n3" style="left:527.70px;top:71.99px;font-family:'Liberation Sans',sans-serif;font-weight:normal;font-size:28.35px;transform:scaleX(0.996);letter-spacing:0.00px;color:#ffffff;">169</div>
<div class="t" id="l4" style="left:667.00px;top:58.92px;font-family:'Liberation Sans',sans-serif;font-weight:normal;font-size:11.87px;transform:scaleX(0.889);letter-spacing:0.00px;color:#fbeae6;-webkit-text-stroke:0.25px #fbeae6">PACIENTES ACTIVOS</div>
<div class="t" id="n4" style="left:690.60px;top:75.23px;font-family:'Liberation Sans',sans-serif;font-weight:normal;font-size:28.07px;transform:scaleX(1.009);letter-spacing:0.00px;color:#ffffff;">2,050</div>
<div class="t" id="l5" style="left:213.00px;top:126.60px;font-family:'Liberation Sans',sans-serif;font-weight:normal;font-size:11.31px;transform:scaleX(0.901);letter-spacing:0.00px;color:#fbeae6;-webkit-text-stroke:0.25px #fbeae6">POSITIVOS ACUMULADOS</div>
<div class="t" id="n5" style="left:236.30px;top:147.15px;font-family:'Liberation Sans',sans-serif;font-weight:normal;font-size:29.05px;transform:scaleX(0.984);letter-spacing:0.00px;color:#ffffff;">70,466</div>
<div class="t" id="l6" style="left:355.00px;top:126.57px;font-family:'Liberation Sans',sans-serif;font-weight:normal;font-size:11.59px;transform:scaleX(0.863);letter-spacing:0.00px;color:#f2f2f2;-webkit-text-stroke:0.25px #f2f2f2">DECESOS ACUMULADOS</div>
<div class="t" id="n6" style="left:380.40px;top:143.73px;font-family:'Liberation Sans',sans-serif;font-weight:normal;font-size:29.47px;transform:scaleX(0.969);letter-spacing:0.00px;color:#ffffff;">3,974</div>
<div class="t" id="l7" style="left:486.00px;top:127.73px;font-family:'Liberation Sans',sans-serif;font-weight:normal;font-size:9.78px;transform:scaleX(0.906);letter-spacing:0.00px;color:#fdeeee;-webkit-text-stroke:0.25px #fdeeee">RECUPERADOS ACUMULADOS</div>
<div class="t" id="n7" style="left:510.20px;top:141.40px;font-family:'Liberation Sans',sans-serif;font-weight:normal;font-size:29.05px;transform:scaleX(0.965);letter-spacing:0.00px;color:#ffffff;">64,442</div>
<div class="t" id="l8" style="left:656.00px;top:126.56px;font-family:'Liberation Serif',serif;font-weight:bold;font-size:9.21px;transform:scaleX(0.948);letter-spacing:0.00px;color:#fbeae6;">NEGATIVOS ACUMULADOS</div>
<div class="t" id="n8" style="left:676.30px;top:142.79px;font-family:'Liberation Sans',sans-serif;font-weight:normal;font-size:29.05px;transform:scaleX(0.988);letter-spacing:0.00px;color:#ffffff;">82,738</div>
</body></html>
